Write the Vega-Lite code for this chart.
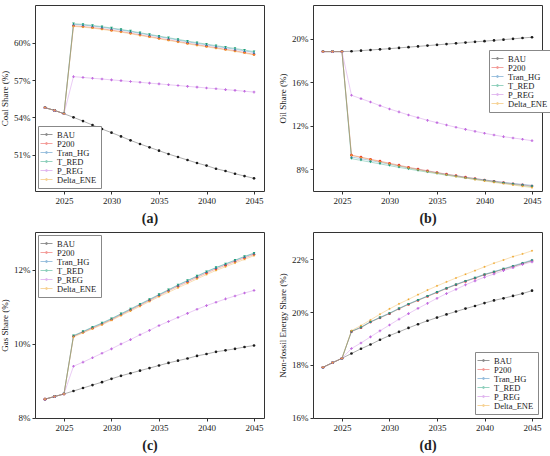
{
  "$schema": "https://vega.github.io/schema/vega-lite/v6.json",
  "background": "white",
  "padding": {"left": 0, "top": 4, "right": 4, "bottom": 4},
  "datasets": {
    "coal": [
      {"year": 2023, "scenario": "BAU", "value": 54.78}, {"year": 2024, "scenario": "BAU", "value": 54.56}, {"year": 2025, "scenario": "BAU", "value": 54.29},
      {"year": 2026, "scenario": "BAU", "value": 54.0}, {"year": 2027, "scenario": "BAU", "value": 53.7}, {"year": 2028, "scenario": "BAU", "value": 53.38},
      {"year": 2029, "scenario": "BAU", "value": 53.06}, {"year": 2030, "scenario": "BAU", "value": 52.77}, {"year": 2031, "scenario": "BAU", "value": 52.47},
      {"year": 2032, "scenario": "BAU", "value": 52.15}, {"year": 2033, "scenario": "BAU", "value": 51.86}, {"year": 2034, "scenario": "BAU", "value": 51.59},
      {"year": 2035, "scenario": "BAU", "value": 51.32}, {"year": 2036, "scenario": "BAU", "value": 51.05}, {"year": 2037, "scenario": "BAU", "value": 50.81},
      {"year": 2038, "scenario": "BAU", "value": 50.57}, {"year": 2039, "scenario": "BAU", "value": 50.33}, {"year": 2040, "scenario": "BAU", "value": 50.12},
      {"year": 2041, "scenario": "BAU", "value": 49.87}, {"year": 2042, "scenario": "BAU", "value": 49.69}, {"year": 2043, "scenario": "BAU", "value": 49.47},
      {"year": 2044, "scenario": "BAU", "value": 49.28}, {"year": 2045, "scenario": "BAU", "value": 49.1},
      {"year": 2023, "scenario": "P200", "value": 54.78}, {"year": 2024, "scenario": "P200", "value": 54.56}, {"year": 2025, "scenario": "P200", "value": 54.29},
      {"year": 2026, "scenario": "P200", "value": 61.36}, {"year": 2027, "scenario": "P200", "value": 61.3}, {"year": 2028, "scenario": "P200", "value": 61.22},
      {"year": 2029, "scenario": "P200", "value": 61.12}, {"year": 2030, "scenario": "P200", "value": 61.01}, {"year": 2031, "scenario": "P200", "value": 60.9},
      {"year": 2032, "scenario": "P200", "value": 60.77}, {"year": 2033, "scenario": "P200", "value": 60.63}, {"year": 2034, "scenario": "P200", "value": 60.5},
      {"year": 2035, "scenario": "P200", "value": 60.36}, {"year": 2036, "scenario": "P200", "value": 60.23}, {"year": 2037, "scenario": "P200", "value": 60.1},
      {"year": 2038, "scenario": "P200", "value": 59.96}, {"year": 2039, "scenario": "P200", "value": 59.83}, {"year": 2040, "scenario": "P200", "value": 59.72},
      {"year": 2041, "scenario": "P200", "value": 59.59}, {"year": 2042, "scenario": "P200", "value": 59.47}, {"year": 2043, "scenario": "P200", "value": 59.35},
      {"year": 2044, "scenario": "P200", "value": 59.21}, {"year": 2045, "scenario": "P200", "value": 59.06},
      {"year": 2023, "scenario": "Tran_HG", "value": 54.78}, {"year": 2024, "scenario": "Tran_HG", "value": 54.56}, {"year": 2025, "scenario": "Tran_HG", "value": 54.29},
      {"year": 2026, "scenario": "Tran_HG", "value": 61.48}, {"year": 2027, "scenario": "Tran_HG", "value": 61.42}, {"year": 2028, "scenario": "Tran_HG", "value": 61.34},
      {"year": 2029, "scenario": "Tran_HG", "value": 61.24}, {"year": 2030, "scenario": "Tran_HG", "value": 61.13}, {"year": 2031, "scenario": "Tran_HG", "value": 61.02},
      {"year": 2032, "scenario": "Tran_HG", "value": 60.89}, {"year": 2033, "scenario": "Tran_HG", "value": 60.75}, {"year": 2034, "scenario": "Tran_HG", "value": 60.62},
      {"year": 2035, "scenario": "Tran_HG", "value": 60.48}, {"year": 2036, "scenario": "Tran_HG", "value": 60.35}, {"year": 2037, "scenario": "Tran_HG", "value": 60.21},
      {"year": 2038, "scenario": "Tran_HG", "value": 60.07}, {"year": 2039, "scenario": "Tran_HG", "value": 59.94}, {"year": 2040, "scenario": "Tran_HG", "value": 59.83},
      {"year": 2041, "scenario": "Tran_HG", "value": 59.7}, {"year": 2042, "scenario": "Tran_HG", "value": 59.59}, {"year": 2043, "scenario": "Tran_HG", "value": 59.47},
      {"year": 2044, "scenario": "Tran_HG", "value": 59.34}, {"year": 2045, "scenario": "Tran_HG", "value": 59.21},
      {"year": 2023, "scenario": "T_RED", "value": 54.78}, {"year": 2024, "scenario": "T_RED", "value": 54.56}, {"year": 2025, "scenario": "T_RED", "value": 54.29},
      {"year": 2026, "scenario": "T_RED", "value": 61.53}, {"year": 2027, "scenario": "T_RED", "value": 61.47}, {"year": 2028, "scenario": "T_RED", "value": 61.39},
      {"year": 2029, "scenario": "T_RED", "value": 61.29}, {"year": 2030, "scenario": "T_RED", "value": 61.18}, {"year": 2031, "scenario": "T_RED", "value": 61.07},
      {"year": 2032, "scenario": "T_RED", "value": 60.94}, {"year": 2033, "scenario": "T_RED", "value": 60.8}, {"year": 2034, "scenario": "T_RED", "value": 60.67},
      {"year": 2035, "scenario": "T_RED", "value": 60.53}, {"year": 2036, "scenario": "T_RED", "value": 60.4}, {"year": 2037, "scenario": "T_RED", "value": 60.27},
      {"year": 2038, "scenario": "T_RED", "value": 60.13}, {"year": 2039, "scenario": "T_RED", "value": 60.0}, {"year": 2040, "scenario": "T_RED", "value": 59.89},
      {"year": 2041, "scenario": "T_RED", "value": 59.76}, {"year": 2042, "scenario": "T_RED", "value": 59.65}, {"year": 2043, "scenario": "T_RED", "value": 59.54},
      {"year": 2044, "scenario": "T_RED", "value": 59.41}, {"year": 2045, "scenario": "T_RED", "value": 59.28},
      {"year": 2023, "scenario": "P_REG", "value": 54.78}, {"year": 2024, "scenario": "P_REG", "value": 54.56}, {"year": 2025, "scenario": "P_REG", "value": 54.29},
      {"year": 2026, "scenario": "P_REG", "value": 57.27}, {"year": 2027, "scenario": "P_REG", "value": 57.21}, {"year": 2028, "scenario": "P_REG", "value": 57.14},
      {"year": 2029, "scenario": "P_REG", "value": 57.08}, {"year": 2030, "scenario": "P_REG", "value": 57.01}, {"year": 2031, "scenario": "P_REG", "value": 56.95},
      {"year": 2032, "scenario": "P_REG", "value": 56.88}, {"year": 2033, "scenario": "P_REG", "value": 56.82}, {"year": 2034, "scenario": "P_REG", "value": 56.75},
      {"year": 2035, "scenario": "P_REG", "value": 56.69}, {"year": 2036, "scenario": "P_REG", "value": 56.62}, {"year": 2037, "scenario": "P_REG", "value": 56.56},
      {"year": 2038, "scenario": "P_REG", "value": 56.49}, {"year": 2039, "scenario": "P_REG", "value": 56.43}, {"year": 2040, "scenario": "P_REG", "value": 56.36},
      {"year": 2041, "scenario": "P_REG", "value": 56.3}, {"year": 2042, "scenario": "P_REG", "value": 56.23}, {"year": 2043, "scenario": "P_REG", "value": 56.17},
      {"year": 2044, "scenario": "P_REG", "value": 56.1}, {"year": 2045, "scenario": "P_REG", "value": 56.03},
      {"year": 2023, "scenario": "Delta_ENE", "value": 54.78}, {"year": 2024, "scenario": "Delta_ENE", "value": 54.56}, {"year": 2025, "scenario": "Delta_ENE", "value": 54.29},
      {"year": 2026, "scenario": "Delta_ENE", "value": 61.31}, {"year": 2027, "scenario": "Delta_ENE", "value": 61.25}, {"year": 2028, "scenario": "Delta_ENE", "value": 61.17},
      {"year": 2029, "scenario": "Delta_ENE", "value": 61.07}, {"year": 2030, "scenario": "Delta_ENE", "value": 60.96}, {"year": 2031, "scenario": "Delta_ENE", "value": 60.85},
      {"year": 2032, "scenario": "Delta_ENE", "value": 60.72}, {"year": 2033, "scenario": "Delta_ENE", "value": 60.58}, {"year": 2034, "scenario": "Delta_ENE", "value": 60.45},
      {"year": 2035, "scenario": "Delta_ENE", "value": 60.31}, {"year": 2036, "scenario": "Delta_ENE", "value": 60.18}, {"year": 2037, "scenario": "Delta_ENE", "value": 60.05},
      {"year": 2038, "scenario": "Delta_ENE", "value": 59.91}, {"year": 2039, "scenario": "Delta_ENE", "value": 59.78}, {"year": 2040, "scenario": "Delta_ENE", "value": 59.67},
      {"year": 2041, "scenario": "Delta_ENE", "value": 59.54}, {"year": 2042, "scenario": "Delta_ENE", "value": 59.42}, {"year": 2043, "scenario": "Delta_ENE", "value": 59.3},
      {"year": 2044, "scenario": "Delta_ENE", "value": 59.16}, {"year": 2045, "scenario": "Delta_ENE", "value": 59.01}
    ],
    "oil": [
      {"year": 2023, "scenario": "BAU", "value": 18.81}, {"year": 2024, "scenario": "BAU", "value": 18.81}, {"year": 2025, "scenario": "BAU", "value": 18.81},
      {"year": 2026, "scenario": "BAU", "value": 18.84}, {"year": 2027, "scenario": "BAU", "value": 18.9}, {"year": 2028, "scenario": "BAU", "value": 18.96},
      {"year": 2029, "scenario": "BAU", "value": 19.02}, {"year": 2030, "scenario": "BAU", "value": 19.08}, {"year": 2031, "scenario": "BAU", "value": 19.15},
      {"year": 2032, "scenario": "BAU", "value": 19.22}, {"year": 2033, "scenario": "BAU", "value": 19.29}, {"year": 2034, "scenario": "BAU", "value": 19.36},
      {"year": 2035, "scenario": "BAU", "value": 19.43}, {"year": 2036, "scenario": "BAU", "value": 19.5}, {"year": 2037, "scenario": "BAU", "value": 19.57},
      {"year": 2038, "scenario": "BAU", "value": 19.64}, {"year": 2039, "scenario": "BAU", "value": 19.71}, {"year": 2040, "scenario": "BAU", "value": 19.77},
      {"year": 2041, "scenario": "BAU", "value": 19.84}, {"year": 2042, "scenario": "BAU", "value": 19.91}, {"year": 2043, "scenario": "BAU", "value": 19.98},
      {"year": 2044, "scenario": "BAU", "value": 20.06}, {"year": 2045, "scenario": "BAU", "value": 20.13},
      {"year": 2023, "scenario": "P200", "value": 18.81}, {"year": 2024, "scenario": "P200", "value": 18.81}, {"year": 2025, "scenario": "P200", "value": 18.81},
      {"year": 2026, "scenario": "P200", "value": 9.3}, {"year": 2027, "scenario": "P200", "value": 9.12}, {"year": 2028, "scenario": "P200", "value": 8.93},
      {"year": 2029, "scenario": "P200", "value": 8.75}, {"year": 2030, "scenario": "P200", "value": 8.56}, {"year": 2031, "scenario": "P200", "value": 8.38},
      {"year": 2032, "scenario": "P200", "value": 8.19}, {"year": 2033, "scenario": "P200", "value": 8.03}, {"year": 2034, "scenario": "P200", "value": 7.87},
      {"year": 2035, "scenario": "P200", "value": 7.71}, {"year": 2036, "scenario": "P200", "value": 7.56}, {"year": 2037, "scenario": "P200", "value": 7.42},
      {"year": 2038, "scenario": "P200", "value": 7.28}, {"year": 2039, "scenario": "P200", "value": 7.15}, {"year": 2040, "scenario": "P200", "value": 7.02},
      {"year": 2041, "scenario": "P200", "value": 6.9}, {"year": 2042, "scenario": "P200", "value": 6.78}, {"year": 2043, "scenario": "P200", "value": 6.67},
      {"year": 2044, "scenario": "P200", "value": 6.57}, {"year": 2045, "scenario": "P200", "value": 6.47},
      {"year": 2023, "scenario": "Tran_HG", "value": 18.81}, {"year": 2024, "scenario": "Tran_HG", "value": 18.81}, {"year": 2025, "scenario": "Tran_HG", "value": 18.81},
      {"year": 2026, "scenario": "Tran_HG", "value": 9.13}, {"year": 2027, "scenario": "Tran_HG", "value": 8.98}, {"year": 2028, "scenario": "Tran_HG", "value": 8.81},
      {"year": 2029, "scenario": "Tran_HG", "value": 8.64}, {"year": 2030, "scenario": "Tran_HG", "value": 8.47}, {"year": 2031, "scenario": "Tran_HG", "value": 8.3},
      {"year": 2032, "scenario": "Tran_HG", "value": 8.13}, {"year": 2033, "scenario": "Tran_HG", "value": 7.98}, {"year": 2034, "scenario": "Tran_HG", "value": 7.83},
      {"year": 2035, "scenario": "Tran_HG", "value": 7.68}, {"year": 2036, "scenario": "Tran_HG", "value": 7.54}, {"year": 2037, "scenario": "Tran_HG", "value": 7.4},
      {"year": 2038, "scenario": "Tran_HG", "value": 7.27}, {"year": 2039, "scenario": "Tran_HG", "value": 7.15}, {"year": 2040, "scenario": "Tran_HG", "value": 7.03},
      {"year": 2041, "scenario": "Tran_HG", "value": 6.92}, {"year": 2042, "scenario": "Tran_HG", "value": 6.81}, {"year": 2043, "scenario": "Tran_HG", "value": 6.71},
      {"year": 2044, "scenario": "Tran_HG", "value": 6.62}, {"year": 2045, "scenario": "Tran_HG", "value": 6.53},
      {"year": 2023, "scenario": "T_RED", "value": 18.81}, {"year": 2024, "scenario": "T_RED", "value": 18.81}, {"year": 2025, "scenario": "T_RED", "value": 18.81},
      {"year": 2026, "scenario": "T_RED", "value": 8.98}, {"year": 2027, "scenario": "T_RED", "value": 8.82}, {"year": 2028, "scenario": "T_RED", "value": 8.66},
      {"year": 2029, "scenario": "T_RED", "value": 8.5}, {"year": 2030, "scenario": "T_RED", "value": 8.34}, {"year": 2031, "scenario": "T_RED", "value": 8.18},
      {"year": 2032, "scenario": "T_RED", "value": 8.03}, {"year": 2033, "scenario": "T_RED", "value": 7.88}, {"year": 2034, "scenario": "T_RED", "value": 7.74},
      {"year": 2035, "scenario": "T_RED", "value": 7.6}, {"year": 2036, "scenario": "T_RED", "value": 7.46}, {"year": 2037, "scenario": "T_RED", "value": 7.33},
      {"year": 2038, "scenario": "T_RED", "value": 7.2}, {"year": 2039, "scenario": "T_RED", "value": 7.08}, {"year": 2040, "scenario": "T_RED", "value": 6.96},
      {"year": 2041, "scenario": "T_RED", "value": 6.84}, {"year": 2042, "scenario": "T_RED", "value": 6.73}, {"year": 2043, "scenario": "T_RED", "value": 6.62},
      {"year": 2044, "scenario": "T_RED", "value": 6.51}, {"year": 2045, "scenario": "T_RED", "value": 6.41},
      {"year": 2023, "scenario": "P_REG", "value": 18.81}, {"year": 2024, "scenario": "P_REG", "value": 18.81}, {"year": 2025, "scenario": "P_REG", "value": 18.81},
      {"year": 2026, "scenario": "P_REG", "value": 14.8}, {"year": 2027, "scenario": "P_REG", "value": 14.49}, {"year": 2028, "scenario": "P_REG", "value": 14.18},
      {"year": 2029, "scenario": "P_REG", "value": 13.85}, {"year": 2030, "scenario": "P_REG", "value": 13.54}, {"year": 2031, "scenario": "P_REG", "value": 13.27},
      {"year": 2032, "scenario": "P_REG", "value": 12.99}, {"year": 2033, "scenario": "P_REG", "value": 12.75}, {"year": 2034, "scenario": "P_REG", "value": 12.5},
      {"year": 2035, "scenario": "P_REG", "value": 12.29}, {"year": 2036, "scenario": "P_REG", "value": 12.07}, {"year": 2037, "scenario": "P_REG", "value": 11.86},
      {"year": 2038, "scenario": "P_REG", "value": 11.67}, {"year": 2039, "scenario": "P_REG", "value": 11.49}, {"year": 2040, "scenario": "P_REG", "value": 11.31},
      {"year": 2041, "scenario": "P_REG", "value": 11.15}, {"year": 2042, "scenario": "P_REG", "value": 11.0}, {"year": 2043, "scenario": "P_REG", "value": 10.88},
      {"year": 2044, "scenario": "P_REG", "value": 10.76}, {"year": 2045, "scenario": "P_REG", "value": 10.63},
      {"year": 2023, "scenario": "Delta_ENE", "value": 18.81}, {"year": 2024, "scenario": "Delta_ENE", "value": 18.81}, {"year": 2025, "scenario": "Delta_ENE", "value": 18.81},
      {"year": 2026, "scenario": "Delta_ENE", "value": 9.28}, {"year": 2027, "scenario": "Delta_ENE", "value": 9.09}, {"year": 2028, "scenario": "Delta_ENE", "value": 8.89},
      {"year": 2029, "scenario": "Delta_ENE", "value": 8.7}, {"year": 2030, "scenario": "Delta_ENE", "value": 8.51}, {"year": 2031, "scenario": "Delta_ENE", "value": 8.32},
      {"year": 2032, "scenario": "Delta_ENE", "value": 8.14}, {"year": 2033, "scenario": "Delta_ENE", "value": 7.97}, {"year": 2034, "scenario": "Delta_ENE", "value": 7.8},
      {"year": 2035, "scenario": "Delta_ENE", "value": 7.64}, {"year": 2036, "scenario": "Delta_ENE", "value": 7.49}, {"year": 2037, "scenario": "Delta_ENE", "value": 7.34},
      {"year": 2038, "scenario": "Delta_ENE", "value": 7.2}, {"year": 2039, "scenario": "Delta_ENE", "value": 7.06}, {"year": 2040, "scenario": "Delta_ENE", "value": 6.93},
      {"year": 2041, "scenario": "Delta_ENE", "value": 6.8}, {"year": 2042, "scenario": "Delta_ENE", "value": 6.68}, {"year": 2043, "scenario": "Delta_ENE", "value": 6.56},
      {"year": 2044, "scenario": "Delta_ENE", "value": 6.44}, {"year": 2045, "scenario": "Delta_ENE", "value": 6.32}
    ],
    "gas": [
      {"year": 2023, "scenario": "BAU", "value": 8.5}, {"year": 2024, "scenario": "BAU", "value": 8.57}, {"year": 2025, "scenario": "BAU", "value": 8.64},
      {"year": 2026, "scenario": "BAU", "value": 8.72}, {"year": 2027, "scenario": "BAU", "value": 8.8}, {"year": 2028, "scenario": "BAU", "value": 8.88},
      {"year": 2029, "scenario": "BAU", "value": 8.96}, {"year": 2030, "scenario": "BAU", "value": 9.05}, {"year": 2031, "scenario": "BAU", "value": 9.13},
      {"year": 2032, "scenario": "BAU", "value": 9.2}, {"year": 2033, "scenario": "BAU", "value": 9.27}, {"year": 2034, "scenario": "BAU", "value": 9.34},
      {"year": 2035, "scenario": "BAU", "value": 9.41}, {"year": 2036, "scenario": "BAU", "value": 9.48}, {"year": 2037, "scenario": "BAU", "value": 9.54},
      {"year": 2038, "scenario": "BAU", "value": 9.6}, {"year": 2039, "scenario": "BAU", "value": 9.67}, {"year": 2040, "scenario": "BAU", "value": 9.72},
      {"year": 2041, "scenario": "BAU", "value": 9.78}, {"year": 2042, "scenario": "BAU", "value": 9.82}, {"year": 2043, "scenario": "BAU", "value": 9.86},
      {"year": 2044, "scenario": "BAU", "value": 9.91}, {"year": 2045, "scenario": "BAU", "value": 9.95},
      {"year": 2023, "scenario": "P200", "value": 8.5}, {"year": 2024, "scenario": "P200", "value": 8.57}, {"year": 2025, "scenario": "P200", "value": 8.64},
      {"year": 2026, "scenario": "P200", "value": 10.2}, {"year": 2027, "scenario": "P200", "value": 10.31}, {"year": 2028, "scenario": "P200", "value": 10.42},
      {"year": 2029, "scenario": "P200", "value": 10.53}, {"year": 2030, "scenario": "P200", "value": 10.65}, {"year": 2031, "scenario": "P200", "value": 10.78},
      {"year": 2032, "scenario": "P200", "value": 10.91}, {"year": 2033, "scenario": "P200", "value": 11.04}, {"year": 2034, "scenario": "P200", "value": 11.17},
      {"year": 2035, "scenario": "P200", "value": 11.3}, {"year": 2036, "scenario": "P200", "value": 11.43}, {"year": 2037, "scenario": "P200", "value": 11.55},
      {"year": 2038, "scenario": "P200", "value": 11.67}, {"year": 2039, "scenario": "P200", "value": 11.79}, {"year": 2040, "scenario": "P200", "value": 11.91},
      {"year": 2041, "scenario": "P200", "value": 12.02}, {"year": 2042, "scenario": "P200", "value": 12.12}, {"year": 2043, "scenario": "P200", "value": 12.22},
      {"year": 2044, "scenario": "P200", "value": 12.32}, {"year": 2045, "scenario": "P200", "value": 12.41},
      {"year": 2023, "scenario": "Tran_HG", "value": 8.5}, {"year": 2024, "scenario": "Tran_HG", "value": 8.57}, {"year": 2025, "scenario": "Tran_HG", "value": 8.64},
      {"year": 2026, "scenario": "Tran_HG", "value": 10.21}, {"year": 2027, "scenario": "Tran_HG", "value": 10.32}, {"year": 2028, "scenario": "Tran_HG", "value": 10.44},
      {"year": 2029, "scenario": "Tran_HG", "value": 10.55}, {"year": 2030, "scenario": "Tran_HG", "value": 10.67}, {"year": 2031, "scenario": "Tran_HG", "value": 10.8},
      {"year": 2032, "scenario": "Tran_HG", "value": 10.93}, {"year": 2033, "scenario": "Tran_HG", "value": 11.06}, {"year": 2034, "scenario": "Tran_HG", "value": 11.19},
      {"year": 2035, "scenario": "Tran_HG", "value": 11.32}, {"year": 2036, "scenario": "Tran_HG", "value": 11.45}, {"year": 2037, "scenario": "Tran_HG", "value": 11.58},
      {"year": 2038, "scenario": "Tran_HG", "value": 11.7}, {"year": 2039, "scenario": "Tran_HG", "value": 11.82}, {"year": 2040, "scenario": "Tran_HG", "value": 11.94},
      {"year": 2041, "scenario": "Tran_HG", "value": 12.05}, {"year": 2042, "scenario": "Tran_HG", "value": 12.15}, {"year": 2043, "scenario": "Tran_HG", "value": 12.25},
      {"year": 2044, "scenario": "Tran_HG", "value": 12.35}, {"year": 2045, "scenario": "Tran_HG", "value": 12.44},
      {"year": 2023, "scenario": "T_RED", "value": 8.5}, {"year": 2024, "scenario": "T_RED", "value": 8.57}, {"year": 2025, "scenario": "T_RED", "value": 8.64},
      {"year": 2026, "scenario": "T_RED", "value": 10.22}, {"year": 2027, "scenario": "T_RED", "value": 10.33}, {"year": 2028, "scenario": "T_RED", "value": 10.45},
      {"year": 2029, "scenario": "T_RED", "value": 10.56}, {"year": 2030, "scenario": "T_RED", "value": 10.68}, {"year": 2031, "scenario": "T_RED", "value": 10.81},
      {"year": 2032, "scenario": "T_RED", "value": 10.94}, {"year": 2033, "scenario": "T_RED", "value": 11.07}, {"year": 2034, "scenario": "T_RED", "value": 11.2},
      {"year": 2035, "scenario": "T_RED", "value": 11.33}, {"year": 2036, "scenario": "T_RED", "value": 11.46}, {"year": 2037, "scenario": "T_RED", "value": 11.59},
      {"year": 2038, "scenario": "T_RED", "value": 11.71}, {"year": 2039, "scenario": "T_RED", "value": 11.83}, {"year": 2040, "scenario": "T_RED", "value": 11.95},
      {"year": 2041, "scenario": "T_RED", "value": 12.06}, {"year": 2042, "scenario": "T_RED", "value": 12.16}, {"year": 2043, "scenario": "T_RED", "value": 12.26},
      {"year": 2044, "scenario": "T_RED", "value": 12.36}, {"year": 2045, "scenario": "T_RED", "value": 12.45},
      {"year": 2023, "scenario": "P_REG", "value": 8.5}, {"year": 2024, "scenario": "P_REG", "value": 8.57}, {"year": 2025, "scenario": "P_REG", "value": 8.64},
      {"year": 2026, "scenario": "P_REG", "value": 9.39}, {"year": 2027, "scenario": "P_REG", "value": 9.5}, {"year": 2028, "scenario": "P_REG", "value": 9.62},
      {"year": 2029, "scenario": "P_REG", "value": 9.74}, {"year": 2030, "scenario": "P_REG", "value": 9.86}, {"year": 2031, "scenario": "P_REG", "value": 9.99},
      {"year": 2032, "scenario": "P_REG", "value": 10.11}, {"year": 2033, "scenario": "P_REG", "value": 10.24}, {"year": 2034, "scenario": "P_REG", "value": 10.36},
      {"year": 2035, "scenario": "P_REG", "value": 10.49}, {"year": 2036, "scenario": "P_REG", "value": 10.6}, {"year": 2037, "scenario": "P_REG", "value": 10.71},
      {"year": 2038, "scenario": "P_REG", "value": 10.82}, {"year": 2039, "scenario": "P_REG", "value": 10.93}, {"year": 2040, "scenario": "P_REG", "value": 11.03},
      {"year": 2041, "scenario": "P_REG", "value": 11.12}, {"year": 2042, "scenario": "P_REG", "value": 11.21}, {"year": 2043, "scenario": "P_REG", "value": 11.29},
      {"year": 2044, "scenario": "P_REG", "value": 11.37}, {"year": 2045, "scenario": "P_REG", "value": 11.44},
      {"year": 2023, "scenario": "Delta_ENE", "value": 8.5}, {"year": 2024, "scenario": "Delta_ENE", "value": 8.57}, {"year": 2025, "scenario": "Delta_ENE", "value": 8.64},
      {"year": 2026, "scenario": "Delta_ENE", "value": 10.18}, {"year": 2027, "scenario": "Delta_ENE", "value": 10.29}, {"year": 2028, "scenario": "Delta_ENE", "value": 10.4},
      {"year": 2029, "scenario": "Delta_ENE", "value": 10.51}, {"year": 2030, "scenario": "Delta_ENE", "value": 10.63}, {"year": 2031, "scenario": "Delta_ENE", "value": 10.76},
      {"year": 2032, "scenario": "Delta_ENE", "value": 10.88}, {"year": 2033, "scenario": "Delta_ENE", "value": 11.01}, {"year": 2034, "scenario": "Delta_ENE", "value": 11.14},
      {"year": 2035, "scenario": "Delta_ENE", "value": 11.27}, {"year": 2036, "scenario": "Delta_ENE", "value": 11.39}, {"year": 2037, "scenario": "Delta_ENE", "value": 11.51},
      {"year": 2038, "scenario": "Delta_ENE", "value": 11.63}, {"year": 2039, "scenario": "Delta_ENE", "value": 11.75}, {"year": 2040, "scenario": "Delta_ENE", "value": 11.87},
      {"year": 2041, "scenario": "Delta_ENE", "value": 11.98}, {"year": 2042, "scenario": "Delta_ENE", "value": 12.08}, {"year": 2043, "scenario": "Delta_ENE", "value": 12.18},
      {"year": 2044, "scenario": "Delta_ENE", "value": 12.28}, {"year": 2045, "scenario": "Delta_ENE", "value": 12.38}
    ],
    "nonfossil": [
      {"year": 2023, "scenario": "BAU", "value": 17.91}, {"year": 2024, "scenario": "BAU", "value": 18.08}, {"year": 2025, "scenario": "BAU", "value": 18.25},
      {"year": 2026, "scenario": "BAU", "value": 18.43}, {"year": 2027, "scenario": "BAU", "value": 18.61}, {"year": 2028, "scenario": "BAU", "value": 18.77},
      {"year": 2029, "scenario": "BAU", "value": 18.95}, {"year": 2030, "scenario": "BAU", "value": 19.11}, {"year": 2031, "scenario": "BAU", "value": 19.25},
      {"year": 2032, "scenario": "BAU", "value": 19.4}, {"year": 2033, "scenario": "BAU", "value": 19.54}, {"year": 2034, "scenario": "BAU", "value": 19.67},
      {"year": 2035, "scenario": "BAU", "value": 19.79}, {"year": 2036, "scenario": "BAU", "value": 19.91}, {"year": 2037, "scenario": "BAU", "value": 20.02},
      {"year": 2038, "scenario": "BAU", "value": 20.13}, {"year": 2039, "scenario": "BAU", "value": 20.23}, {"year": 2040, "scenario": "BAU", "value": 20.34},
      {"year": 2041, "scenario": "BAU", "value": 20.44}, {"year": 2042, "scenario": "BAU", "value": 20.52}, {"year": 2043, "scenario": "BAU", "value": 20.61},
      {"year": 2044, "scenario": "BAU", "value": 20.7}, {"year": 2045, "scenario": "BAU", "value": 20.81},
      {"year": 2023, "scenario": "P200", "value": 17.91}, {"year": 2024, "scenario": "P200", "value": 18.08}, {"year": 2025, "scenario": "P200", "value": 18.25},
      {"year": 2026, "scenario": "P200", "value": 19.26}, {"year": 2027, "scenario": "P200", "value": 19.41}, {"year": 2028, "scenario": "P200", "value": 19.62},
      {"year": 2029, "scenario": "P200", "value": 19.78}, {"year": 2030, "scenario": "P200", "value": 19.94}, {"year": 2031, "scenario": "P200", "value": 20.12},
      {"year": 2032, "scenario": "P200", "value": 20.29}, {"year": 2033, "scenario": "P200", "value": 20.44}, {"year": 2034, "scenario": "P200", "value": 20.59},
      {"year": 2035, "scenario": "P200", "value": 20.74}, {"year": 2036, "scenario": "P200", "value": 20.89}, {"year": 2037, "scenario": "P200", "value": 21.03},
      {"year": 2038, "scenario": "P200", "value": 21.16}, {"year": 2039, "scenario": "P200", "value": 21.28}, {"year": 2040, "scenario": "P200", "value": 21.41},
      {"year": 2041, "scenario": "P200", "value": 21.51}, {"year": 2042, "scenario": "P200", "value": 21.62}, {"year": 2043, "scenario": "P200", "value": 21.72},
      {"year": 2044, "scenario": "P200", "value": 21.83}, {"year": 2045, "scenario": "P200", "value": 21.94},
      {"year": 2023, "scenario": "Tran_HG", "value": 17.91}, {"year": 2024, "scenario": "Tran_HG", "value": 18.08}, {"year": 2025, "scenario": "Tran_HG", "value": 18.25},
      {"year": 2026, "scenario": "Tran_HG", "value": 19.27}, {"year": 2027, "scenario": "Tran_HG", "value": 19.43}, {"year": 2028, "scenario": "Tran_HG", "value": 19.63},
      {"year": 2029, "scenario": "Tran_HG", "value": 19.8}, {"year": 2030, "scenario": "Tran_HG", "value": 19.96}, {"year": 2031, "scenario": "Tran_HG", "value": 20.14},
      {"year": 2032, "scenario": "Tran_HG", "value": 20.31}, {"year": 2033, "scenario": "Tran_HG", "value": 20.46}, {"year": 2034, "scenario": "Tran_HG", "value": 20.61},
      {"year": 2035, "scenario": "Tran_HG", "value": 20.76}, {"year": 2036, "scenario": "Tran_HG", "value": 20.91}, {"year": 2037, "scenario": "Tran_HG", "value": 21.05},
      {"year": 2038, "scenario": "Tran_HG", "value": 21.18}, {"year": 2039, "scenario": "Tran_HG", "value": 21.3}, {"year": 2040, "scenario": "Tran_HG", "value": 21.43},
      {"year": 2041, "scenario": "Tran_HG", "value": 21.53}, {"year": 2042, "scenario": "Tran_HG", "value": 21.64}, {"year": 2043, "scenario": "Tran_HG", "value": 21.75},
      {"year": 2044, "scenario": "Tran_HG", "value": 21.86}, {"year": 2045, "scenario": "Tran_HG", "value": 21.97},
      {"year": 2023, "scenario": "T_RED", "value": 17.91}, {"year": 2024, "scenario": "T_RED", "value": 18.08}, {"year": 2025, "scenario": "T_RED", "value": 18.25},
      {"year": 2026, "scenario": "T_RED", "value": 19.27}, {"year": 2027, "scenario": "T_RED", "value": 19.42}, {"year": 2028, "scenario": "T_RED", "value": 19.63},
      {"year": 2029, "scenario": "T_RED", "value": 19.79}, {"year": 2030, "scenario": "T_RED", "value": 19.95}, {"year": 2031, "scenario": "T_RED", "value": 20.13},
      {"year": 2032, "scenario": "T_RED", "value": 20.3}, {"year": 2033, "scenario": "T_RED", "value": 20.45}, {"year": 2034, "scenario": "T_RED", "value": 20.6},
      {"year": 2035, "scenario": "T_RED", "value": 20.75}, {"year": 2036, "scenario": "T_RED", "value": 20.9}, {"year": 2037, "scenario": "T_RED", "value": 21.04},
      {"year": 2038, "scenario": "T_RED", "value": 21.17}, {"year": 2039, "scenario": "T_RED", "value": 21.29}, {"year": 2040, "scenario": "T_RED", "value": 21.42},
      {"year": 2041, "scenario": "T_RED", "value": 21.52}, {"year": 2042, "scenario": "T_RED", "value": 21.63}, {"year": 2043, "scenario": "T_RED", "value": 21.73},
      {"year": 2044, "scenario": "T_RED", "value": 21.84}, {"year": 2045, "scenario": "T_RED", "value": 21.95},
      {"year": 2023, "scenario": "P_REG", "value": 17.91}, {"year": 2024, "scenario": "P_REG", "value": 18.08}, {"year": 2025, "scenario": "P_REG", "value": 18.25},
      {"year": 2026, "scenario": "P_REG", "value": 18.62}, {"year": 2027, "scenario": "P_REG", "value": 18.83}, {"year": 2028, "scenario": "P_REG", "value": 19.06},
      {"year": 2029, "scenario": "P_REG", "value": 19.29}, {"year": 2030, "scenario": "P_REG", "value": 19.51}, {"year": 2031, "scenario": "P_REG", "value": 19.73},
      {"year": 2032, "scenario": "P_REG", "value": 19.94}, {"year": 2033, "scenario": "P_REG", "value": 20.14}, {"year": 2034, "scenario": "P_REG", "value": 20.33},
      {"year": 2035, "scenario": "P_REG", "value": 20.52}, {"year": 2036, "scenario": "P_REG", "value": 20.7}, {"year": 2037, "scenario": "P_REG", "value": 20.86},
      {"year": 2038, "scenario": "P_REG", "value": 21.03}, {"year": 2039, "scenario": "P_REG", "value": 21.18}, {"year": 2040, "scenario": "P_REG", "value": 21.32},
      {"year": 2041, "scenario": "P_REG", "value": 21.44}, {"year": 2042, "scenario": "P_REG", "value": 21.57}, {"year": 2043, "scenario": "P_REG", "value": 21.68},
      {"year": 2044, "scenario": "P_REG", "value": 21.8}, {"year": 2045, "scenario": "P_REG", "value": 21.9},
      {"year": 2023, "scenario": "Delta_ENE", "value": 17.91}, {"year": 2024, "scenario": "Delta_ENE", "value": 18.08}, {"year": 2025, "scenario": "Delta_ENE", "value": 18.25},
      {"year": 2026, "scenario": "Delta_ENE", "value": 19.3}, {"year": 2027, "scenario": "Delta_ENE", "value": 19.49}, {"year": 2028, "scenario": "Delta_ENE", "value": 19.7},
      {"year": 2029, "scenario": "Delta_ENE", "value": 19.92}, {"year": 2030, "scenario": "Delta_ENE", "value": 20.12}, {"year": 2031, "scenario": "Delta_ENE", "value": 20.31},
      {"year": 2032, "scenario": "Delta_ENE", "value": 20.48}, {"year": 2033, "scenario": "Delta_ENE", "value": 20.66}, {"year": 2034, "scenario": "Delta_ENE", "value": 20.83},
      {"year": 2035, "scenario": "Delta_ENE", "value": 20.99}, {"year": 2036, "scenario": "Delta_ENE", "value": 21.14}, {"year": 2037, "scenario": "Delta_ENE", "value": 21.29},
      {"year": 2038, "scenario": "Delta_ENE", "value": 21.43}, {"year": 2039, "scenario": "Delta_ENE", "value": 21.57}, {"year": 2040, "scenario": "Delta_ENE", "value": 21.71},
      {"year": 2041, "scenario": "Delta_ENE", "value": 21.85}, {"year": 2042, "scenario": "Delta_ENE", "value": 21.97}, {"year": 2043, "scenario": "Delta_ENE", "value": 22.1},
      {"year": 2044, "scenario": "Delta_ENE", "value": 22.2}, {"year": 2045, "scenario": "Delta_ENE", "value": 22.32}
    ]
  },
  "columns": 2,
  "spacing": {"row": 41, "column": 49},
  "bounds": "flush",
  "resolve": {"legend": {"color": "independent"}},
  "concat": [
    {
      "width": 229,
      "height": 186,
      "data": {"name": "coal"},
      "encoding": {
        "x": {"field": "year", "type": "quantitative", "scale": {"domain": [2021.95, 2046.05], "nice": false, "zero": false}, "axis": {"values": [2025, 2030, 2035, 2040, 2045], "format": "d", "title": "(a)"}},
        "y": {"field": "value", "type": "quantitative", "scale": {"domain": [48.08, 63.03], "nice": false, "zero": false}, "axis": {"values": [51, 54, 57, 60], "labelExpr": "datum.value + '%'", "title": "Coal Share (%)"}},
        "color": {"field": "scenario", "type": "nominal", "scale": {"domain": ["BAU", "P200", "Tran_HG", "T_RED", "P_REG", "Delta_ENE"], "range": ["#1a1a1a", "#e8352e", "#2b7bba", "#1b9e77", "#c36ee0", "#eea62b"]}, "legend": {"orient": "bottom-left", "offset": 3, "symbolType": "M-1.5,0L1.5,0M-0.25,0A0.25,0.25,0,1,0,0.25,0A0.25,0.25,0,1,0,-0.25,0"}}
      },
      "layer": [
        {"mark": {"type": "line", "strokeWidth": 0.7, "opacity": 0.5}},
        {"mark": {"type": "point", "filled": true, "size": 7, "opacity": 1}, "encoding": {"shape": {"field": "scenario", "type": "nominal", "scale": {"domain": ["BAU", "P200", "Tran_HG", "T_RED", "P_REG", "Delta_ENE"], "range": ["circle", "circle", "triangle-up", "triangle-down", "cross", "M0,-1L0.29,-0.4L0.95,-0.31L0.47,0.15L0.59,0.81L0,0.5L-0.59,0.81L-0.47,0.15L-0.95,-0.31L-0.29,-0.4Z"]}, "legend": null}}}
      ]
    },
    {
      "width": 229,
      "height": 186,
      "data": {"name": "oil"},
      "encoding": {
        "x": {"field": "year", "type": "quantitative", "scale": {"domain": [2021.95, 2046.05], "nice": false, "zero": false}, "axis": {"values": [2025, 2030, 2035, 2040, 2045], "format": "d", "title": "(b)"}},
        "y": {"field": "value", "type": "quantitative", "scale": {"domain": [6.01, 23.09], "nice": false, "zero": false}, "axis": {"values": [8, 12, 16, 20], "labelExpr": "datum.value + '%'", "title": "Oil Share (%)"}},
        "color": {"field": "scenario", "type": "nominal", "scale": {"domain": ["BAU", "P200", "Tran_HG", "T_RED", "P_REG", "Delta_ENE"], "range": ["#1a1a1a", "#e8352e", "#2b7bba", "#1b9e77", "#c36ee0", "#eea62b"]}, "legend": {"orient": "none", "legendX": 176, "legendY": 45, "symbolType": "M-1.5,0L1.5,0M-0.25,0A0.25,0.25,0,1,0,0.25,0A0.25,0.25,0,1,0,-0.25,0"}}
      },
      "layer": [
        {"mark": {"type": "line", "strokeWidth": 0.7, "opacity": 0.5}},
        {"mark": {"type": "point", "filled": true, "size": 7, "opacity": 1}, "encoding": {"shape": {"field": "scenario", "type": "nominal", "scale": {"domain": ["BAU", "P200", "Tran_HG", "T_RED", "P_REG", "Delta_ENE"], "range": ["circle", "circle", "triangle-up", "triangle-down", "cross", "M0,-1L0.29,-0.4L0.95,-0.31L0.47,0.15L0.59,0.81L0,0.5L-0.59,0.81L-0.47,0.15L-0.95,-0.31L-0.29,-0.4Z"]}, "legend": null}}}
      ]
    },
    {
      "width": 229,
      "height": 186,
      "data": {"name": "gas"},
      "encoding": {
        "x": {"field": "year", "type": "quantitative", "scale": {"domain": [2021.95, 2046.05], "nice": false, "zero": false}, "axis": {"values": [2025, 2030, 2035, 2040, 2045], "format": "d", "title": "(c)"}},
        "y": {"field": "value", "type": "quantitative", "scale": {"domain": [7.99, 13.02], "nice": false, "zero": false}, "axis": {"values": [8, 10, 12], "labelExpr": "datum.value + '%'", "title": "Gas Share (%)"}},
        "color": {"field": "scenario", "type": "nominal", "scale": {"domain": ["BAU", "P200", "Tran_HG", "T_RED", "P_REG", "Delta_ENE"], "range": ["#1a1a1a", "#e8352e", "#2b7bba", "#1b9e77", "#c36ee0", "#eea62b"]}, "legend": {"orient": "top-left", "offset": 3, "symbolType": "M-1.5,0L1.5,0M-0.25,0A0.25,0.25,0,1,0,0.25,0A0.25,0.25,0,1,0,-0.25,0"}}
      },
      "layer": [
        {"mark": {"type": "line", "strokeWidth": 0.7, "opacity": 0.5}},
        {"mark": {"type": "point", "filled": true, "size": 7, "opacity": 1}, "encoding": {"shape": {"field": "scenario", "type": "nominal", "scale": {"domain": ["BAU", "P200", "Tran_HG", "T_RED", "P_REG", "Delta_ENE"], "range": ["circle", "circle", "triangle-up", "triangle-down", "cross", "M0,-1L0.29,-0.4L0.95,-0.31L0.47,0.15L0.59,0.81L0,0.5L-0.59,0.81L-0.47,0.15L-0.95,-0.31L-0.29,-0.4Z"]}, "legend": null}}}
      ]
    },
    {
      "width": 229,
      "height": 186,
      "data": {"name": "nonfossil"},
      "encoding": {
        "x": {"field": "year", "type": "quantitative", "scale": {"domain": [2021.95, 2046.05], "nice": false, "zero": false}, "axis": {"values": [2025, 2030, 2035, 2040, 2045], "format": "d", "title": "(d)"}},
        "y": {"field": "value", "type": "quantitative", "scale": {"domain": [15.99, 23.03], "nice": false, "zero": false}, "axis": {"values": [16, 18, 20, 22], "labelExpr": "datum.value + '%'", "title": "Non-fossil Energy Share (%)"}},
        "color": {"field": "scenario", "type": "nominal", "scale": {"domain": ["BAU", "P200", "Tran_HG", "T_RED", "P_REG", "Delta_ENE"], "range": ["#1a1a1a", "#e8352e", "#2b7bba", "#1b9e77", "#c36ee0", "#eea62b"]}, "legend": {"orient": "bottom-right", "offset": 4, "symbolType": "M-1.5,0L1.5,0M-0.25,0A0.25,0.25,0,1,0,0.25,0A0.25,0.25,0,1,0,-0.25,0"}}
      },
      "layer": [
        {"mark": {"type": "line", "strokeWidth": 0.7, "opacity": 0.5}},
        {"mark": {"type": "point", "filled": true, "size": 7, "opacity": 1}, "encoding": {"shape": {"field": "scenario", "type": "nominal", "scale": {"domain": ["BAU", "P200", "Tran_HG", "T_RED", "P_REG", "Delta_ENE"], "range": ["circle", "circle", "triangle-up", "triangle-down", "cross", "M0,-1L0.29,-0.4L0.95,-0.31L0.47,0.15L0.59,0.81L0,0.5L-0.59,0.81L-0.47,0.15L-0.95,-0.31L-0.29,-0.4Z"]}, "legend": null}}}
      ]
    }
  ],
  "config": {
    "view": {"stroke": "#333", "strokeWidth": 1},
    "axis": {
      "grid": false,
      "domain": false,
      "ticks": true,
      "tickSize": 3,
      "tickColor": "#333",
      "labelFont": "Liberation Serif",
      "labelFontSize": 9,
      "labelColor": "#222",
      "labelPadding": 2,
      "titleFont": "Liberation Serif",
      "titleFontSize": 9,
      "titleFontWeight": "normal",
      "titleColor": "#222"
    },
    "axisX": {"titleFontSize": 14, "titleFontWeight": "bold", "titlePadding": 6, "labelFlush": false},
    "axisY": {"titlePadding": 4},
    "legend": {
      "title": null,
      "labelFont": "Liberation Serif",
      "labelFontSize": 8.5,
      "labelColor": "#222",
      "labelOffset": 6,
      "symbolSize": 64,
      "symbolStrokeWidth": 0.9,
      "rowPadding": -0.5,
      "padding": 4,
      "strokeColor": "#888",
      "fillColor": "white",
      "cornerRadius": 0
    }
  }
}
